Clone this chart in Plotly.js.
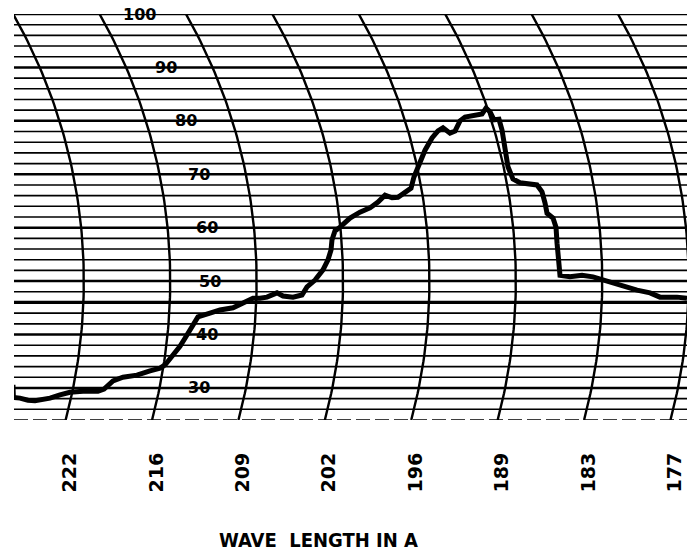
<!DOCTYPE html>
<html>
<head>
<meta charset="utf-8">
<script src="https://cdn.plot.ly/plotly-3.0.1.min.js"></script>
<style>
  html, body { margin: 0; padding: 0; background: #fff; }
  #chart { width: 687px; height: 556px; }
</style>
</head>
<body>
<div id="chart"></div>
<script>
// Wavelength marks along the chart (one per pen-arc division)
const tickPos = [0, 1, 2, 3, 4, 5, 6, 7];
const tickLabels = ['222', '216', '209', '202', '196', '189', '183', '177'];

// Percent scale printed on the chart paper
const scaleLabels = [100, 90, 80, 70, 60, 50, 40, 30];

// Recorder trace: position along the chart (arc divisions) and reading in percent
const traceX = [-0.66, -0.655, -0.579, -0.486, -0.405, -0.231, -0.116, 0.000, 0.150, 0.324,
  0.394, 0.440, 0.498, 0.613, 0.775, 0.926, 1.042, 1.100, 1.157, 1.215,
  1.273, 1.331, 1.389, 1.435, 1.481, 1.620, 1.736, 1.887, 2.002, 2.118,
  2.199, 2.280, 2.396, 2.465, 2.581, 2.685, 2.743, 2.836, 2.928, 2.986,
  3.021, 3.032, 3.067, 3.125, 3.241, 3.356, 3.472, 3.565, 3.646, 3.727,
  3.796, 3.900, 3.947, 3.981, 4.039, 4.109, 4.190, 4.259, 4.317, 4.398,
  4.456, 4.514, 4.572, 4.664, 4.769, 4.815, 4.861, 4.907, 4.965, 5.000,
  5.035, 5.069, 5.127, 5.208, 5.405, 5.463, 5.498, 5.521, 5.590, 5.625,
  5.637, 5.648, 5.671, 5.787, 5.926, 6.053, 6.169, 6.366, 6.563, 6.713,
  6.829, 7.025, 7.141];
const traceY = [30.6, 28.2, 28.1, 27.7, 27.6, 28.1, 28.7, 29.2, 29.4, 29.4,
  29.8, 30.5, 31.3, 32.0, 32.4, 33.2, 33.7, 34.3, 35.4, 36.5,
  37.8, 39.3, 40.8, 42.3, 43.3, 44.0, 44.6, 45.0, 45.9, 46.8,
  46.8, 47.0, 47.8, 47.2, 47.0, 47.4, 48.9, 50.2, 52.1, 54.0,
  55.8, 57.7, 59.4, 60.1, 61.8, 62.9, 63.7, 64.8, 66.1, 65.6,
  65.7, 66.7, 67.4, 69.5, 71.9, 74.5, 76.8, 78.1, 78.7, 77.7,
  78.1, 80.0, 80.7, 80.9, 81.3, 82.4, 81.7, 80.2, 80.3, 78.3,
  74.5, 71.4, 69.1, 68.4, 68.0, 66.7, 64.6, 62.7, 61.8, 60.1,
  57.1, 54.0, 51.1, 50.8, 51.1, 50.8, 50.2, 49.1, 48.3, 47.8,
  47.0, 47.0, 46.8];

// Plot geometry
const W = 687, H = 556;
const margin = { l: 14, r: 0, t: 14, b: 136 };
const xRange = [-0.648, 7.141];
const yRange = [24, 100];
const pxPerX = (W - margin.l - margin.r) / (xRange[1] - xRange[0]);
const pxPerY = (H - margin.t - margin.b) / (yRange[1] - yRange[0]);

// The pen swings on an arm pivoted at mid-scale, so constant-time lines are circular arcs
const armRadiusPx = 540;
const pivotLevel = 50;
function arcX(crest, y) {
  const dy = (y - pivotLevel) * pxPerY;
  const off = armRadiusPx - Math.sqrt(armRadiusPx * armRadiusPx - dy * dy);
  return crest - off / pxPerX;
}

const traces = [];
const arcCrestShift = 0.16;
for (let k = -1; k <= 8; k++) {
  const ys = [], xs = [];
  for (let y = yRange[0]; y <= yRange[1] + 0.001; y += 1) {
    ys.push(y);
    xs.push(arcX(k + arcCrestShift, y));
  }
  traces.push({
    x: xs, y: ys, type: 'scatter', mode: 'lines',
    line: { color: '#000', width: 2.4 },
    hoverinfo: 'skip', showlegend: false
  });
}

// The recorded curve
traces.push({
  x: traceX, y: traceY, type: 'scatter', mode: 'lines',
  line: { color: '#000', width: 5, shape: 'linear' },
  hoverinfo: 'skip', showlegend: false
});

// Horizontal rulings every 2 %
const shapes = [];
for (let v = yRange[0]; v <= yRange[1]; v += 2) {
  let width = 1.6, dash = 'solid';
  if (v % 10 === 0) width = 2.5;
  if (v === 46) width = 3.2;
  if (v === yRange[0]) { dash = '14px,5px'; width = 1.6; }
  shapes.push({
    type: 'line', xref: 'paper', yref: 'y', x0: 0, x1: 1, y0: v, y1: v,
    line: { color: '#000', width: width, dash: dash }, layer: 'below'
  });
}

// Percent figures sit on their own arc across the paper
const labelCrest = 1.62;
const annotations = scaleLabels.map(v => ({
  x: arcX(labelCrest, v), y: v, xref: 'x', yref: 'y',
  text: String(v), showarrow: false, xanchor: 'center', yanchor: 'middle',
  font: { family: 'DejaVu Sans', size: 16, weight: 'bold', color: '#000' }
}));
annotations.push({
  x: (318 - margin.l) / (W - margin.l - margin.r), y: -(540 - (H - margin.b)) / (H - margin.t - margin.b),
  xref: 'paper', yref: 'paper', xanchor: 'center', yanchor: 'middle',
  text: 'WAVE\u00a0\u00a0LENGTH IN A', showarrow: false,
  font: { family: 'Liberation Sans Narrow, DejaVu Sans Condensed, sans-serif', size: 20, weight: 'bold', color: '#000' }
});

const layout = {
  width: W, height: H, margin: margin,
  paper_bgcolor: '#fff', plot_bgcolor: '#fff',
  showlegend: false,
  xaxis: {
    range: xRange, showgrid: false, zeroline: false, showline: false,
    tickvals: tickPos, ticktext: tickLabels, tickangle: -90, ticks: '',
    ticklabelstandoff: 28,
    tickfont: { family: 'DejaVu Sans', size: 19, weight: 'bold', color: '#000' },
    fixedrange: true
  },
  yaxis: {
    range: yRange, visible: false, showgrid: false, zeroline: false, fixedrange: true
  },
  shapes: shapes,
  annotations: annotations
};

Plotly.newPlot('chart', traces, layout, { displayModeBar: false, staticPlot: true });
</script>
</body>
</html>
